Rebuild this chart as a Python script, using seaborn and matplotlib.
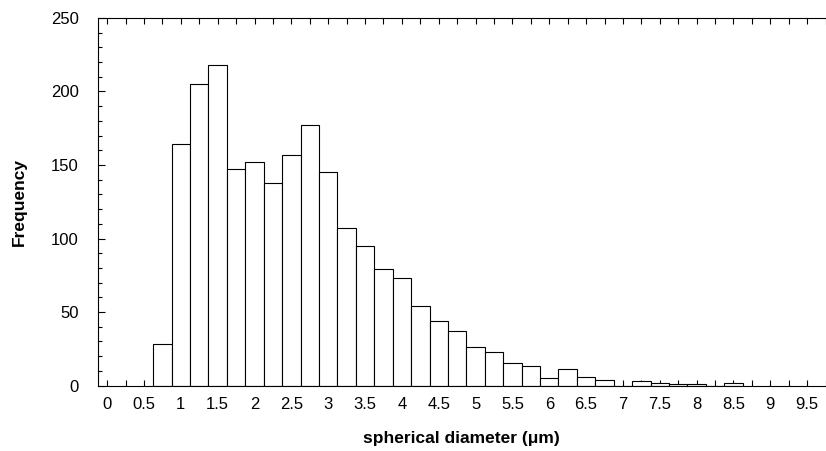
import numpy as np
import pandas as pd
import matplotlib
matplotlib.use("Agg")
import matplotlib.pyplot as plt
from matplotlib.ticker import MultipleLocator, FuncFormatter
import seaborn as sns

# Bin centres (spherical diameter, µm) and counts
diameters = [0.75, 1.0, 1.25, 1.5, 1.75, 2.0, 2.25, 2.5, 2.75, 3.0,
             3.25, 3.5, 3.75, 4.0, 4.25, 4.5, 4.75, 5.0, 5.25, 5.5,
             5.75, 6.0, 6.25, 6.5, 6.75, 7.0, 7.25, 7.5, 7.75, 8.0,
             8.25, 8.5]
frequencies = [28, 164, 205, 218, 147, 152, 138, 157, 177, 145,
               107, 95, 79, 73, 54, 44, 37, 26, 23, 15,
               13, 5, 11, 6, 4, 0, 3, 2, 1, 1,
               0, 2]
bin_width = 0.25
x_tick_values = [0, 0.5, 1, 1.5, 2, 2.5, 3, 3.5, 4, 4.5, 5, 5.5, 6, 6.5, 7, 7.5, 8, 8.5, 9, 9.5]
y_tick_values = [0, 50, 100, 150, 200, 250]

df = pd.DataFrame({"diameter": diameters, "frequency": frequencies})

sns.set_style("white")
plt.rcParams["font.family"] = ["Liberation Sans", "DejaVu Sans"]

fig = plt.figure(figsize=(8.26, 4.51), dpi=100)
ax = fig.add_axes([0.1186, 0.1452, 0.8809, 0.8149])

lo = diameters[0] - bin_width / 2
hi = diameters[-1] + bin_width / 2
sns.histplot(data=df, x="diameter", weights="frequency",
             binwidth=bin_width, binrange=(lo, hi),
             color="white", edgecolor="black", linewidth=0.8, alpha=1,
             ax=ax)

ax.set_xlim(-0.125, 9.75)
ax.set_ylim(0, 250)
ax.set_xticks(x_tick_values)
ax.xaxis.set_major_formatter(FuncFormatter(lambda v, p: f"{v:g}"))
ax.xaxis.set_minor_locator(MultipleLocator(0.25))
ax.set_yticks(y_tick_values)
ax.yaxis.set_minor_locator(MultipleLocator(10))

for s in ["left", "bottom", "top"]:
    ax.spines[s].set_visible(True)
    ax.spines[s].set_color("black")
    ax.spines[s].set_linewidth(0.8)
ax.spines["right"].set_visible(False)

ax.tick_params(axis="x", which="both", direction="in", top=True, bottom=True,
               length=4, width=0.8, color="black", labelsize=12, pad=8,
               labelcolor="black")
ax.tick_params(axis="y", which="major", direction="in", left=True, right=False,
               length=5, width=0.8, color="black", labelsize=12, pad=14,
               labelcolor="black")
ax.tick_params(axis="y", which="minor", direction="in", left=True, right=False,
               length=3, width=0.8, color="black")

ax.set_xlabel("spherical diameter (\u03bcm)", fontsize=12.5, fontweight="bold",
              labelpad=14, color="black")
ax.set_ylabel("Frequency", fontsize=12.5, fontweight="bold", labelpad=17,
              color="black")
ax.grid(False)

fig.savefig("out.png", dpi=100)
